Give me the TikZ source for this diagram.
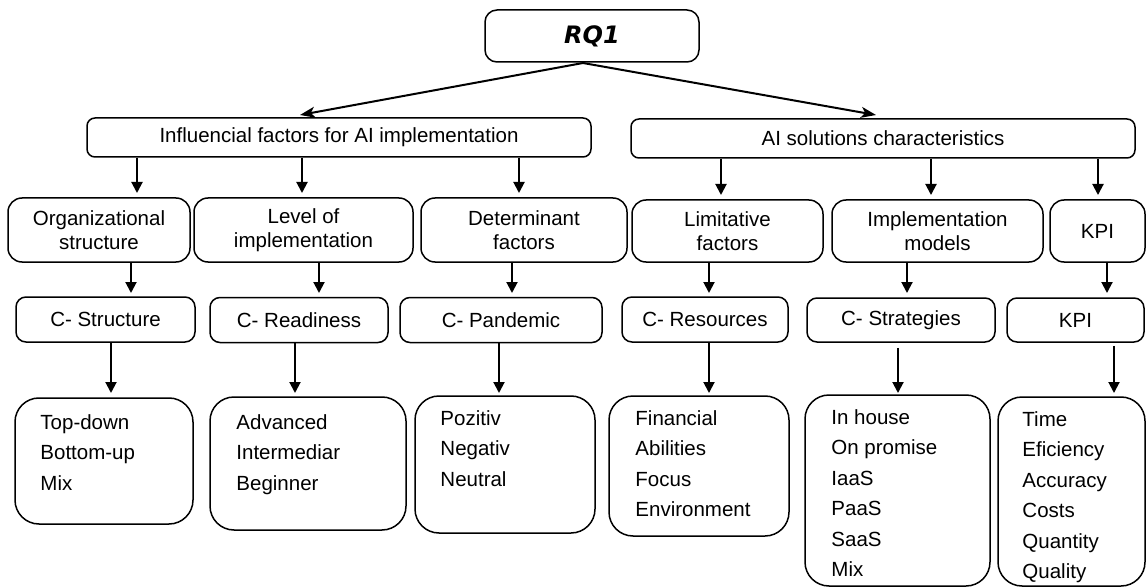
\documentclass[tikz,border=0pt]{standalone}
\usepackage{fontspec}
\setmainfont{Liberation Sans}
\newfontfamily\rqfont{DejaVu Sans}
\usetikzlibrary{arrows.meta,calc}
\begin{document}
\begin{tikzpicture}[x=1pt,y=-1pt,
  box/.style={draw, line width=1.5pt, rounded corners=#1, inner sep=0pt, align=center,
    font={\fontsize{20.5}{24}\selectfont}},
  box/.default=10pt,
  sz/.style 2 args={minimum width=#1pt, minimum height=#2pt},
  lst/.style={anchor=north west, inner sep=0pt, align=left,
    font={\fontsize{20.5}{30.5}\selectfont}},
  arr/.style={line width=2pt, -{Triangle[length=11pt,width=11pt]}},
  darr/.style={line width=2pt, -{Stealth[length=15pt,width=11pt,inset=4pt]}},
]
\useasboundingbox (0,0) rectangle (1146,588);

% top
\node[box=12pt, sz={214}{52}, font={\rqfont\bfseries\itshape\fontsize{24}{28}\selectfont}] (rq) at (592,36) {RQ1};
\node[box=8pt, sz={504}{39}] (infl) at (339,137.5) {Influencial factors for AI implementation};
\node[box=8pt, sz={504}{39}] (ais) at (883,138.5) {AI solutions characteristics};

\coordinate (rqs) at (583,63);
\coordinate (t1) at (300,115);
\coordinate (t2) at (876,115);
\draw[darr] (rqs) -- (t1);
\draw[darr] (rqs) -- (t2);

% row 3
\node[box=14pt, sz={182}{64}] (org) at (99,230) {Organizational\\structure};
\node[box=14pt, sz={219}{64}] (lvl) at (303.5,230) {Level of\\implementation};
\node[box=14pt, sz={206}{64}] (det) at (524,230) {Determinant\\factors};
\node[box=14pt, sz={191}{62}] (lim) at (727.5,231) {Limitative\\factors};
\node[box=14pt, sz={211}{62}] (imp) at (937.5,231) {Implementation\\models};
\node[box=14pt, sz={95}{62}] (kpia) at (1097.5,231) {KPI};

\coordinate (a1) at (137,193);
\coordinate (a2) at (302,193);
\coordinate (a3) at (519,193);
\coordinate (a4) at (721,195);
\coordinate (a5) at (931,195);
\coordinate (a6) at (1098,195);
\draw[arr] (infl.south -| a1) -- (a1);
\draw[arr] (infl.south -| a2) -- (a2);
\draw[arr] (infl.south -| a3) -- (a3);
\draw[arr] (ais.south -| a4) -- (a4);
\draw[arr] (ais.south -| a5) -- (a5);
\draw[arr] (ais.south -| a6) -- (a6);

% row 4
\node[box=10pt, sz={179}{45}] (cs) at (105.5,319.5) {C- Structure};
\node[box=10pt, sz={178}{45}] (cr) at (299,320) {C- Readiness};
\node[box=10pt, sz={202}{45}] (cp) at (501,320) {C- Pandemic};
\node[box=10pt, sz={166}{45}] (cres) at (705,319.5) {C- Resources};
\node[box=10pt, sz={188}{44}] (cst) at (901,320) {C- Strategies};
\node[box=10pt, sz={137}{44}] (kpib) at (1075.5,320) {KPI};

\coordinate (b1) at (131,293);
\coordinate (b2) at (319,293);
\coordinate (b3) at (512,293);
\coordinate (b4) at (709,293);
\coordinate (b5) at (907,293);
\coordinate (b6) at (1107,293);
\draw[arr] (org.south -| b1) -- (b1);
\draw[arr] (lvl.south -| b2) -- (b2);
\draw[arr] (det.south -| b3) -- (b3);
\draw[arr] (lim.south -| b4) -- (b4);
\draw[arr] (imp.south -| b5) -- (b5);
\draw[arr] (kpia.south -| b6) -- (b6);

% row 5
\node[box=24pt, sz={178}{126}] (l1) at (104,461) {};
\node[box=24pt, sz={196}{133}] (l2) at (308,463.5) {};
\node[box=24pt, sz={180}{137}] (l3) at (505,464.5) {};
\node[box=24pt, sz={180}{140}] (l4) at (699,466) {};
\node[box=24pt, sz={185}{191}] (l5) at (897.5,490.5) {};
\node[box=24pt, sz={147}{189}] (l6) at (1071.5,491.5) {};

\coordinate (c1) at (111,393);
\coordinate (c2) at (295,393);
\coordinate (c3) at (499,393);
\coordinate (c4) at (709,393);
\coordinate (c5) at (898,393);
\coordinate (c6) at (1114,393);
\draw[arr] (cs.south -| c1) -- (c1);
\draw[arr] (cr.south -| c2) -- (c2);
\draw[arr] (cp.south -| c3) -- (c3);
\draw[arr] (cres.south -| c4) -- (c4);
\draw[arr, shorten <=5pt] (cst.south -| c5) -- (c5);
\draw[arr, shorten <=3pt] (kpib.south -| c6) -- (c6);

\node[lst] (x1) at ($(l1.north west)+(26,17)$) {Top-down\\Bottom-up\\Mix};
\node[lst] (x2) at ($(l2.north west)+(27,18)$) {Advanced\\Intermediar\\Beginner};
\node[lst] (x3) at ($(l3.north west)+(26,15)$) {Pozitiv\\Negativ\\Neutral};
\node[lst] (x4) at ($(l4.north west)+(27,15)$) {Financial\\Abilities\\Focus\\Environment};
\node[lst] (x5) at ($(l5.north west)+(27,15)$) {In house\\On promise\\IaaS\\PaaS\\SaaS\\Mix};
\node[lst] (x6) at ($(l6.north west)+(25,15)$) {Time\\Eficiency\\Accuracy\\Costs\\Quantity\\Quality};
\end{tikzpicture}
\end{document}
